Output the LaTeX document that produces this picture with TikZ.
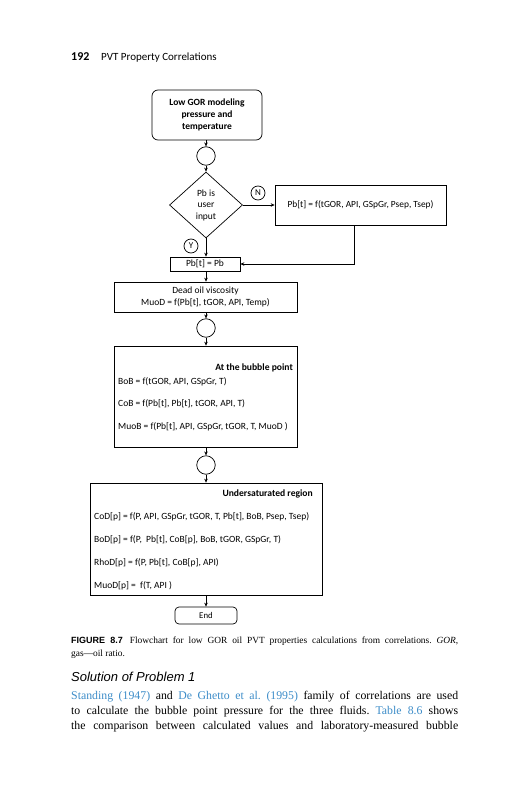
\documentclass[tikz,border=0pt]{standalone}
\usepackage{fontspec}
\setmainfont{Liberation Serif}
\newfontfamily\flowfont{Carlito}
\newfontfamily\headfont{Carlito}
\newfontfamily\capsans{Liberation Sans}
\usetikzlibrary{arrows.meta,shapes.geometric}
\definecolor{linkblue}{RGB}{60,140,200}
\frenchspacing
\begin{document}
\begin{tikzpicture}[x=1pt,y=-1pt,
  ln/.style={line width=0.7pt},
  arr/.style={ln,-{Stealth[length=4pt,width=3.5pt]}},
  ff/.style={font=\flowfont\fontsize{9.5}{11}\selectfont},
  box/.style={draw,ln,ff,inner sep=0pt,align=center},
  rbox/.style={box,rounded corners=6pt},
  conn/.style={draw,ln,circle,inner sep=0pt,minimum size=18.5pt},
  lab/.style={draw,ln,circle,inner sep=0pt,minimum size=14pt,font=\flowfont\fontsize{9}{10}\selectfont},
  txt/.style={ff,inner sep=0pt,anchor=west},
  btxt/.style={inner sep=0pt,anchor=east,font=\flowfont\bfseries\fontsize{9.6}{11}\selectfont}
]
\useasboundingbox (0,0) rectangle (531,800);
% header
\node[anchor=base west,inner sep=0pt,font=\headfont\bfseries\fontsize{12}{13}\selectfont] (pg) at (71,61) {192};
\node[anchor=base west,inner sep=0pt,font=\headfont\fontsize{11}{13}\selectfont] (ti) at (101,61) {PVT Property Correlations};
% flowchart
\node[rbox,minimum width=110pt,minimum height=50pt,font=\flowfont\bfseries\fontsize{9.5}{12}\selectfont] (start) at (207,115) {Low GOR modeling\\pressure and\\temperature};
\node[conn] (c1) at (206,156) {};
\node[box,diamond,minimum width=73pt,minimum height=66pt,font=\flowfont\fontsize{9.5}{11.5}\selectfont] (dia) at (206,205) {Pb is\\user\\input};
\node[lab] (n) at (258,193) {N};
\node[box,minimum width=171pt,minimum height=40pt,font=\flowfont\fontsize{9.4}{12}\selectfont] (pbf) at (360.5,205) {Pb[t] = f(tGOR, API, GSpGr, Psep, Tsep)};
\node[lab] (y) at (191,246) {Y};
\node[box,minimum width=70pt,minimum height=14pt] (pbt) at (205,264) {Pb[t] = Pb};
\coordinate (turn) at (354,264);
\node[box,minimum width=183pt,minimum height=30pt,font=\flowfont\fontsize{9.5}{11.5}\selectfont] (dead) at (205.5,297) {Dead oil viscosity\\MuoD = f(Pb[t], tGOR, API, Temp)};
\node[conn] (c2) at (206,328) {};
\node[box,minimum width=183pt,minimum height=101pt] (bub) at (205.5,396.5) {};
\node[btxt] (bubh) at (293,368) {At the bubble point};
\node[txt] (bob) at (118,382) {BoB = f(tGOR, API, GSpGr, T)};
\node[txt] (cob) at (118,404) {CoB = f(Pb[t], Pb[t], tGOR, API, T)};
\node[txt] (muob) at (118,427) {MuoB = f(Pb[t], API, GSpGr, tGOR, T, MuoD )};
\node[conn] (c3) at (206,465) {};
\node[box,minimum width=232pt,minimum height=112pt] (und) at (206,539) {};
\node[btxt] (undh) at (313,494) {Undersaturated region};
\node[txt] (cod) at (94,517) {CoD[p] = f(P, API, GSpGr, tGOR, T, Pb[t], BoB, Psep, Tsep)};
\node[txt] (bod) at (94,540) {BoD[p] = f(P, \ Pb[t], CoB[p], BoB, tGOR, GSpGr, T)};
\node[txt] (rhod) at (94,563) {RhoD[p] = f(P, Pb[t], CoB[p], API)};
\node[txt] (muod) at (94,586) {MuoD[p] = \ f(T, API )};
\node[rbox,rounded corners=4pt,minimum width=62pt,minimum height=17pt,font=\flowfont\fontsize{8.8}{10}\selectfont] (end) at (206,615.5) {End};
% connectors
\draw[arr] (start.south -| c1) -- (c1.north);
\draw[arr] (c1.south) -- (dia.north);
\draw[arr] (dia.east) -- (pbf.west);
\draw[arr] (dia.south) -- (pbt.north -| dia.south);
\draw[arr] (pbf.south -| turn) -- (turn) -- (pbt.east);
\draw[arr] (pbt.south -| c2) -- (dead.north -| c2);
\draw[arr] (dead.south -| c2) -- (c2.north);
\draw[arr] (c2.south) -- (bub.north -| c2);
\draw[arr] (bub.south -| c3) -- (c3.north);
\draw[arr] (c3.south) -- (und.north -| c3);
\draw[arr] (und.south -| end) -- (end.north);
% caption
\node[anchor=base west,inner sep=0pt,font=\fontsize{9.4}{11}\selectfont] (cap1) at (71,643)
  {\makebox[387pt][s]{{\capsans\bfseries\fontsize{9}{11}\selectfont FIGURE 8.7}\hspace{7pt}Flowchart for low GOR oil PVT properties calculations from correlations. \textit{GOR},}};
\node[anchor=base west,inner sep=0pt,font=\fontsize{9.4}{11}\selectfont] (cap2) at (71,656) {gas—oil ratio.};
\node[anchor=base west,inner sep=0pt,font=\capsans\itshape\fontsize{13}{15}\selectfont] (sol) at (71,681) {Solution of Problem 1};
\node[anchor=base west,inner sep=0pt,font=\fontsize{11.8}{14}\selectfont] (b1) at (71,699)
  {\makebox[387pt][s]{\textcolor{linkblue}{Standing (1947)} and \textcolor{linkblue}{De Ghetto et al. (1995)} family of correlations are used}};
\node[anchor=base west,inner sep=0pt,font=\fontsize{11.8}{14}\selectfont] (b2) at (71,714)
  {\makebox[387pt][s]{to calculate the bubble point pressure for the three fluids. \textcolor{linkblue}{Table 8.6} shows}};
\node[anchor=base west,inner sep=0pt,font=\fontsize{11.8}{14}\selectfont] (b3) at (71,729)
  {\makebox[387pt][s]{the comparison between calculated values and laboratory-measured bubble}};
\end{tikzpicture}
\end{document}
